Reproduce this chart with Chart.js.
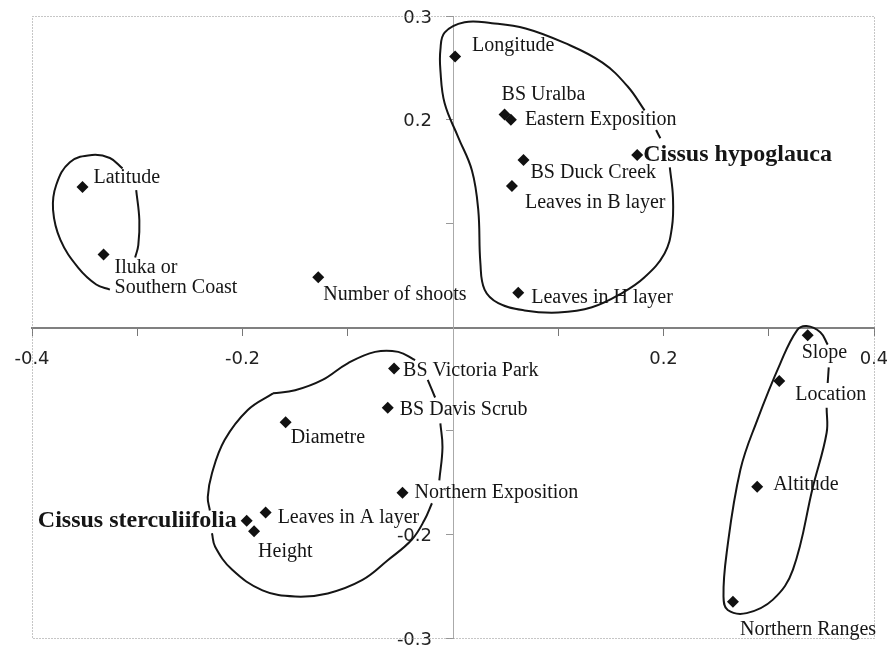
<!DOCTYPE html>
<html>
<head>
<meta charset="utf-8">
<script src="https://cdn.jsdelivr.net/npm/chart.js@4.4.0/dist/chart.umd.min.js"></script>
<style>
  html, body { margin: 0; padding: 0; background: #fff; }
</style>
</head>
<body>
<canvas id="ordination" width="887" height="648"></canvas>
<script>
// Ordination scores (axis 1 / axis 2)
const pointLabels = [
    'Longitude', 'BS Uralba', 'Eastern Exposition', 'BS Duck Creek', 'Leaves in B layer',
    'Leaves in H layer', 'Cissus hypoglauca', 'Latitude', 'Iluka or\nSouthern Coast', 'Number of shoots',
    'BS Victoria Park', 'BS Davis Scrub', 'Northern Exposition', 'Diametre', 'Leaves in A layer',
    'Cissus sterculiifolia', 'Height', 'Slope', 'Location', 'Altitude', 'Northern Ranges'
];
const pointX = [0.002, 0.049, 0.055, 0.067, 0.056, 0.062, 0.175, -0.352, -0.332, -0.128,
    -0.056, -0.062, -0.048, -0.159, -0.178, -0.196, -0.189, 0.337, 0.310, 0.289, 0.266];
const pointY = [0.261, 0.205, 0.200, 0.161, 0.136, 0.033, 0.166, 0.135, 0.070, 0.048,
    -0.040, -0.078, -0.160, -0.092, -0.179, -0.187, -0.197, -0.008, -0.052, -0.154, -0.265];
const boldLabels = ['Cissus hypoglauca', 'Cissus sterculiifolia'];

// Hand-drawn group outlines, [x, y] in axis units
const latitudeLoopLeft = [[-0.314, 0.153], [-0.326, 0.163], [-0.343, 0.166], [-0.364, 0.159], [-0.377, 0.137],
    [-0.380, 0.113], [-0.373, 0.084], [-0.356, 0.057], [-0.339, 0.041], [-0.326, 0.036]];
const latitudeLoopRight = [[-0.301, 0.132], [-0.298, 0.103], [-0.299, 0.079], [-0.302, 0.067]];
const hypoglaucaLoop = [[0.182, 0.209], [0.166, 0.232], [0.142, 0.255], [0.106, 0.274], [0.069, 0.288],
    [0.037, 0.293], [0.011, 0.294], [-0.008, 0.284], [-0.012, 0.267], [-0.012, 0.248], [-0.008, 0.216],
    [0.005, 0.183], [0.018, 0.151], [0.024, 0.113], [0.026, 0.062], [0.030, 0.036], [0.043, 0.023],
    [0.068, 0.016], [0.100, 0.014], [0.132, 0.019], [0.161, 0.033], [0.182, 0.048], [0.201, 0.071],
    [0.208, 0.096], [0.209, 0.125], [0.206, 0.154]];
const hypoglaucaStub = [[0.193, 0.190], [0.197, 0.182]];
const sterculiifoliaTop = [[-0.171, -0.064], [-0.150, -0.061], [-0.124, -0.051], [-0.100, -0.035],
    [-0.074, -0.024], [-0.052, -0.024], [-0.036, -0.032]];
const sterculiifoliaStub = [[-0.024, -0.051], [-0.017, -0.068]];
const sterculiifoliaRight = [[-0.012, -0.093], [-0.010, -0.116], [-0.013, -0.148]];
const sterculiifoliaBottom = [[-0.020, -0.170], [-0.027, -0.186], [-0.039, -0.205], [-0.062, -0.225],
    [-0.086, -0.244], [-0.119, -0.257], [-0.150, -0.260], [-0.181, -0.254], [-0.210, -0.234],
    [-0.226, -0.212], [-0.229, -0.199]];
const sterculiifoliaLeft = [[-0.171, -0.064], [-0.195, -0.080], [-0.217, -0.109], [-0.229, -0.141],
    [-0.233, -0.164], [-0.231, -0.177]];
const rangesStub = [[0.357, -0.039], [0.356, -0.054]];
const rangesLoop = [[0.355, -0.078], [0.355, -0.102], [0.342, -0.154], [0.323, -0.234], [0.304, -0.263],
    [0.279, -0.276], [0.261, -0.273], [0.257, -0.260], [0.260, -0.218], [0.273, -0.138], [0.289, -0.090],
    [0.311, -0.035], [0.327, -0.003], [0.336, 0.001], [0.349, -0.005], [0.356, -0.017]];

const xTickLabels = ['-0.4', '-0.2', '0.2', '0.4'];
const yTickLabels = ['-0.3', '-0.2', '0.2', '0.3'];

// where each label sits relative to its diamond (px)
const labelPlacement = {
    'Longitude': [17, -11], 'BS Uralba': [-3, -20], 'Eastern Exposition': [14, 0],
    'BS Duck Creek': [7, 13], 'Leaves in B layer': [13, 17], 'Leaves in H layer': [13, 5],
    'Cissus hypoglauca': [6, 0], 'Latitude': [11, -9], 'Iluka or\nSouthern Coast': [11, 13],
    'Number of shoots': [5, 18], 'BS Victoria Park': [9, 2], 'BS Davis Scrub': [12, 2],
    'Northern Exposition': [12, 0], 'Diametre': [5, 15], 'Leaves in A layer': [12, 5],
    'Cissus sterculiifolia': [-10, 0], 'Height': [4, 21], 'Slope': [-6, 17],
    'Location': [16, 14], 'Altitude': [16, -2], 'Northern Ranges': [7, 28]
};

function outline(pts) {
    return {
        data: pts.map(p => ({ x: p[0], y: p[1] })),
        showLine: true,
        tension: 0.4,
        borderColor: '#151515',
        borderWidth: 2,
        pointRadius: 0,
        pointHoverRadius: 0,
        fill: false
    };
}

function tickText(list) {
    return function(value) {
        const s = (Math.round(value * 10) / 10).toFixed(1);
        return list.includes(s) ? s : '';
    };
}

// end labels may hang over the frame, as in the original
function noOverhang(scale) {
    scale.paddingLeft = 0;
    scale.paddingRight = 0;
    scale.paddingTop = 0;
    scale.paddingBottom = 0;
}

// dotted frame round the plot
const frame = {
    id: 'frame',
    beforeDatasetsDraw(chart) {
        const { ctx, chartArea: a } = chart;
        ctx.save();
        ctx.strokeStyle = '#8c8c8c';
        ctx.lineWidth = 1;
        ctx.setLineDash([1, 2]);
        ctx.strokeRect(a.left + 0.5, a.top + 0.5, a.right - a.left, a.bottom - a.top);
        ctx.restore();
    }
};

const pointText = {
    id: 'pointText',
    afterDatasetsDraw(chart) {
        const ctx = chart.ctx;
        const meta = chart.getDatasetMeta(0);
        ctx.save();
        ctx.fillStyle = '#151515';
        ctx.textBaseline = 'middle';
        meta.data.forEach((pt, i) => {
            const label = pointLabels[i];
            const [dx, dy] = labelPlacement[label] || [8, 0];
            const bold = boldLabels.includes(label);
            ctx.font = bold ? 'bold 24px "Liberation Serif", serif' : '20px "Liberation Serif", serif';
            ctx.textAlign = dx < 0 && bold ? 'right' : 'left';
            label.split('\n').forEach((line, k) => {
                ctx.fillText(line, pt.x + dx, pt.y + dy + k * 20);
            });
        });
        ctx.restore();
    }
};

const tickFont = { family: 'DejaVu Sans', size: 18 };

new Chart(document.getElementById('ordination'), {
    type: 'scatter',
    data: {
        datasets: [
            {
                data: pointX.map((x, i) => ({ x: x, y: pointY[i] })),
                pointStyle: 'rectRot',
                pointRadius: 6,
                pointHoverRadius: 6,
                backgroundColor: '#111',
                borderWidth: 0
            },
            outline(latitudeLoopLeft),
            outline(latitudeLoopRight),
            outline(hypoglaucaLoop),
            outline(hypoglaucaStub),
            outline(sterculiifoliaTop),
            outline(sterculiifoliaStub),
            outline(sterculiifoliaRight),
            outline(sterculiifoliaBottom),
            outline(sterculiifoliaLeft),
            outline(rangesStub),
            outline(rangesLoop)
        ]
    },
    options: {
        responsive: false,
        animation: false,
        devicePixelRatio: 1,
        layout: {
            padding: { left: 32, right: 13, top: 16, bottom: 10 }
        },
        plugins: {
            legend: { display: false },
            tooltip: { enabled: false }
        },
        scales: {
            x: {
                type: 'linear',
                min: -0.4,
                max: 0.4,
                position: 'center',
                afterFit: noOverhang,
                ticks: {
                    stepSize: 0.1,
                    autoSkip: false,
                    maxRotation: 0,
                    padding: 15,
                    color: '#222',
                    font: tickFont,
                    callback: tickText(xTickLabels)
                },
                grid: {
                    drawOnChartArea: false,
                    drawTicks: true,
                    tickLength: 7,
                    color: '#777'
                },
                border: { color: '#808080', width: 2 }
            },
            y: {
                type: 'linear',
                min: -0.3,
                max: 0.3,
                position: 'center',
                afterFit: noOverhang,
                ticks: {
                    stepSize: 0.1,
                    autoSkip: false,
                    padding: 14,
                    labelOffset: 2,
                    color: '#222',
                    font: tickFont,
                    callback: tickText(yTickLabels)
                },
                grid: {
                    drawOnChartArea: false,
                    drawTicks: true,
                    tickLength: 7,
                    color: '#999'
                },
                border: { color: '#aaa', width: 1, dash: [3, 3] }
            }
        }
    },
    plugins: [frame, pointText]
});
</script>
</body>
</html>
